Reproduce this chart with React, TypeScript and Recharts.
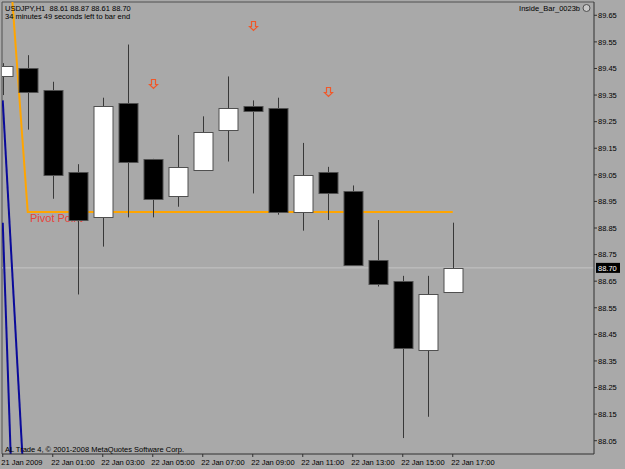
import React from 'react';
import { ComposedChart, Bar, Line, Scatter, XAxis, YAxis, ReferenceLine } from 'recharts';

const W = 625;
const H = 469;
const BG = '#a9a9a9';
const FONT = '"Liberation Sans", Arial, sans-serif';

// USDJPY H1 bars, oldest first
const opens = [89.42, 89.45, 89.37, 89.06, 88.89, 89.32, 89.11, 88.97, 89.07, 89.22, 89.31, 89.30, 88.91, 89.06, 88.99, 88.73, 88.65, 88.39, 88.61];
const highs = [89.47, 89.50, 89.40, 89.09, 89.34, 89.54, 89.11, 89.20, 89.27, 89.42, 89.33, 89.34, 89.17, 89.08, 89.01, 88.88, 88.67, 88.67, 88.87];
const lows = [89.35, 89.22, 88.96, 88.60, 88.78, 88.89, 88.89, 88.93, 89.07, 89.10, 88.98, 88.90, 88.84, 88.88, 88.71, 88.63, 88.06, 88.14, 88.61];
const closes = [89.46, 89.36, 89.05, 88.88, 89.31, 89.10, 88.96, 89.08, 89.21, 89.30, 89.29, 88.91, 89.05, 88.98, 88.71, 88.64, 88.40, 88.60, 88.70];

// indicator lines
const pivot = [90.2, 88.91, 88.91, 88.91, 88.91, 88.91, 88.91, 88.91, 88.91, 88.91, 88.91, 88.91, 88.91, 88.91, 88.91, 88.91, 88.91, 88.91, 88.91];
const blueA = [88.87, 86.12];
const blueB = [89.33, 87.63];
const pivotLabelBar = 1;

// inside bar arrows
const arrowBars = [6, 10, 13];
const arrowPrices = [89.39, 89.61, 89.36];

const priceTicks = [88.05, 88.15, 88.25, 88.35, 88.45, 88.55, 88.65, 88.75, 88.85, 88.95, 89.05, 89.15, 89.25, 89.35, 89.45, 89.55, 89.65];
const timeTickBars = [0, 2, 4, 6, 8, 10, 12, 14, 16, 18];
const timeTickLabels = ['21 Jan 2009', '22 Jan 01:00', '22 Jan 03:00', '22 Jan 05:00', '22 Jan 07:00', '22 Jan 09:00', '22 Jan 11:00', '22 Jan 13:00', '22 Jan 15:00', '22 Jan 17:00'];

const lastPrice = 88.70;

const data = opens.map((o, i) => ({
  i,
  open: o,
  high: highs[i],
  low: lows[i],
  close: closes[i],
  range: [lows[i], highs[i]],
  pivot: pivot[i],
  blueA: i < blueA.length ? blueA[i] : null,
  blueB: i < blueB.length ? blueB[i] : null,
}));

const arrowData = arrowBars.map((b, k) => ({ i: b, price: arrowPrices[k] }));

function Candle(props: any) {
  const { x, y, width, height, payload } = props;
  if (x == null || y == null) return <g />;
  const top = Math.min(y, y + height);
  const h = Math.abs(height);
  const { open, high, low, close } = payload;
  // linear price -> pixel mapping taken from this bar's own high/low
  const py = (v: number) => top + ((high - v) / (high - low)) * h;
  const cx = Math.round(x + width / 2) + 0.5;
  const bTop = Math.round(py(Math.max(open, close))) + 0.5;
  const bBot = Math.round(py(Math.min(open, close))) + 0.5;
  const bull = close >= open;
  return (
    <g>
      {payload.i === pivotLabelBar && (
        <text x={cx + 1.5} y={py(payload.pivot) + 9.5} fontSize={11} fontFamily={FONT} fill="#e8433a">
          Pivot Point
        </text>
      )}
      <line x1={cx} x2={cx} y1={top} y2={top + h} stroke="#383838" strokeWidth={1} />
      <rect
        x={cx - 9.5}
        y={bTop}
        width={19}
        height={Math.max(bBot - bTop, 2)}
        fill={bull ? '#ffffff' : '#000000'}
        stroke="#505050"
        strokeWidth={1}
      />
    </g>
  );
}

function Arrow(props: any) {
  const { cx, cy } = props;
  if (cx == null || cy == null) return <g />;
  const x = Math.round(cx) + 0.5;
  const y = Math.round(cy) + 0.5;
  const d = `M${x - 2},${y - 5} H${x + 2} V${y} H${x + 4} L${x},${y + 4} L${x - 4},${y} H${x - 2} Z`;
  return <path d={d} fill="none" stroke="#f0582a" strokeWidth={1.2} />;
}

function PriceTick(props: any) {
  const { x, y, payload } = props;
  return (
    <text x={x} y={y} dy={2.8} textAnchor="start" fontSize={7.5} fontFamily={FONT} fill="#000">
      {Number(payload.value).toFixed(2)}
    </text>
  );
}

function TimeTick(props: any) {
  const { x, y, payload } = props;
  const k = timeTickBars.indexOf(payload.value);
  return (
    <text x={x - 1.5} y={y} dy={7} textAnchor="start" fontSize={7.5} fontFamily={FONT} fill="#000">
      {k >= 0 ? timeTickLabels[k] : ''}
    </text>
  );
}

function PriceBox(props: any) {
  const vb = props.viewBox || {};
  const x = (vb.x || 0) + (vb.width || 0) + 2;
  const y = vb.y || 0;
  return (
    <g>
      <rect x={x} y={y - 5} width={24} height={10} fill="#000" />
      <text x={x + 2} y={y + 2.8} fontSize={7.5} fontFamily={FONT} fill="#fff">
        {lastPrice.toFixed(2)}
      </text>
    </g>
  );
}

export default function App() {
  const last = data[data.length - 1];
  const header = `USDJPY,H1  ${last.open.toFixed(2)} ${last.high.toFixed(2)} ${last.low.toFixed(2)} ${last.close.toFixed(2)}`;
  return (
    <div style={{ position: 'absolute', left: 0, top: 0, width: W, height: H, background: BG }}>
      <ComposedChart width={W} height={H} data={data} margin={{ top: 2, right: 0, bottom: 0, left: 2 }}>
        <XAxis
          dataKey="i"
          type="number"
          domain={[-0.03, 23.65]}
          ticks={timeTickBars}
          allowDataOverflow
          height={15}
          stroke="#303030"
          tickSize={3}
          tickMargin={1}
          tick={<TimeTick />}
          interval={0}
        />
        <YAxis
          type="number"
          orientation="right"
          domain={[88.0, 89.7]}
          ticks={priceTicks}
          allowDataOverflow
          width={31}
          stroke="#303030"
          tickSize={3}
          tickMargin={1}
          tick={<PriceTick />}
          interval={0}
        />
        <ReferenceLine x={-0.03} stroke="#505050" ifOverflow="visible" zIndex={50} />
        <ReferenceLine y={89.7} stroke="#505050" ifOverflow="visible" zIndex={50} />
        <ReferenceLine y={lastPrice} stroke="#c4c4c4" zIndex={60} label={<PriceBox />} />
        <Line
          dataKey="pivot"
          type="linear"
          stroke="#ffa500"
          strokeWidth={2}
          dot={false}
          activeDot={false}
          isAnimationActive={false}
          zIndex={100}
        />
        <Line dataKey="blueA" type="linear" stroke="#0a0a9a" strokeWidth={2} dot={false} activeDot={false} isAnimationActive={false} zIndex={110} />
        <Line dataKey="blueB" type="linear" stroke="#0a0a9a" strokeWidth={2} dot={false} activeDot={false} isAnimationActive={false} zIndex={110} />
        <Bar dataKey="range" barSize={19} shape={<Candle />} isAnimationActive={false} zIndex={300} />
        <Scatter data={arrowData} dataKey="price" shape={<Arrow />} isAnimationActive={false} zIndex={600} />
      </ComposedChart>
      <svg width={W} height={H} style={{ position: 'absolute', left: 0, top: 0, pointerEvents: 'none' }}>
        <text x={5} y={10.5} fontSize={7.5} fontFamily={FONT} fill="#000" style={{ whiteSpace: 'pre' }}>
          {header}
        </text>
        <text x={5} y={18.5} fontSize={7.5} fontFamily={FONT} fill="#000">
          34 minutes 49 seconds left to bar end
        </text>
        <text x={580} y={11} fontSize={7.5} fontFamily={FONT} fill="#000" textAnchor="end">
          Inside_Bar_0023b
        </text>
        <circle cx={586.5} cy={8} r={3.5} fill="#c8c8c8" stroke="#505050" strokeWidth={1} />
        <text x={5} y={452} fontSize={7.5} fontFamily={FONT} fill="#000">
          AL Trade 4, © 2001-2008 MetaQuotes Software Corp.
        </text>
      </svg>
    </div>
  );
}
